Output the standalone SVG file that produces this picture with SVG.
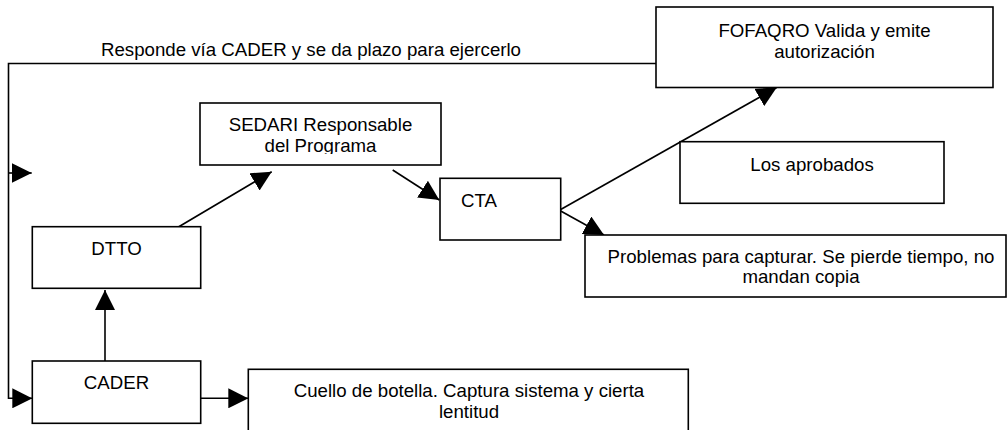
<svg xmlns="http://www.w3.org/2000/svg" width="1007" height="430" viewBox="0 0 1007 430">
  <style>
    .box { fill: #ffffff; stroke: #000000; stroke-width: 1.6; }
    .t { font-family: "Liberation Sans", Arial, sans-serif; font-size: 18.67px; fill: #000000; }
    .c { text-anchor: middle; }
    .ln { fill: none; stroke: #000000; stroke-width: 1.6; }
  </style>
  <defs>
    <marker id="ah" markerUnits="userSpaceOnUse" markerWidth="20" markerHeight="20" refX="20" refY="10" orient="auto" viewBox="0 0 20 20">
      <path d="M0,0 L20,10 L0,20 z" fill="#000000"/>
    </marker>
    <clipPath id="clipSedari">
      <rect x="200" y="103" width="241" height="51"/>
    </clipPath>
  </defs>

  <rect width="1007" height="430" fill="#ffffff"/>

  <text class="t" x="101" y="56">Responde vía CADER y se da plazo para ejercerlo</text>

  <g id="connectors">
    <path class="ln" d="M656,63.5 H8.5 V398.3 H32.3" marker-end="url(#ah)"/>
    <path class="ln" d="M8.5,173 H31.7" marker-end="url(#ah)"/>
    <path class="ln" d="M105,361 V290" marker-end="url(#ah)"/>
    <path class="ln" d="M176.7,228 L271.7,171.7" marker-end="url(#ah)"/>
    <path class="ln" d="M392.7,170 L439.3,200" marker-end="url(#ah)"/>
    <path class="ln" d="M560.7,209.5 L776.7,87.6" marker-end="url(#ah)"/>
    <path class="ln" d="M560.7,211 L604,235" marker-end="url(#ah)"/>
    <path class="ln" d="M200.7,398.3 H248.3" marker-end="url(#ah)"/>
  </g>

  <g id="fofaqro">
    <rect class="box" x="656" y="7" width="337" height="80.5"/>
    <text class="t c" x="824.5" y="37">FOFAQRO Valida y emite</text>
    <text class="t c" x="824.5" y="58">autorización</text>
  </g>

  <g id="sedari">
    <rect class="box" x="200" y="103" width="241" height="62"/>
    <g clip-path="url(#clipSedari)">
      <text class="t c" x="320.5" y="130.7">SEDARI Responsable</text>
      <text class="t c" x="320.5" y="152">del Programa</text>
    </g>
  </g>

  <g id="dtto">
    <rect class="box" x="32.3" y="226.7" width="168.4" height="61.6"/>
    <text class="t c" x="116.5" y="255">DTTO</text>
  </g>

  <g id="cta">
    <rect class="box" x="440" y="178.3" width="120.7" height="61.7"/>
    <text class="t" x="461" y="206.7">CTA</text>
  </g>

  <g id="aprobados">
    <rect class="box" x="680" y="141.7" width="264" height="61.6"/>
    <text class="t c" x="812" y="170.5">Los aprobados</text>
  </g>

  <g id="problemas">
    <rect class="box" x="585" y="235" width="421" height="62"/>
    <text class="t c" x="801" y="263">Problemas para capturar. Se pierde tiempo, no</text>
    <text class="t c" x="801" y="283.3">mandan copia</text>
  </g>

  <g id="cader">
    <rect class="box" x="32.3" y="361" width="168.4" height="62.3"/>
    <text class="t c" x="116.5" y="389">CADER</text>
  </g>

  <g id="cuello">
    <rect class="box" x="248.3" y="369.3" width="440" height="70"/>
    <text class="t c" x="469" y="397">Cuello de botella. Captura sistema y cierta</text>
    <text class="t c" x="469" y="418">lentitud</text>
  </g>
</svg>
